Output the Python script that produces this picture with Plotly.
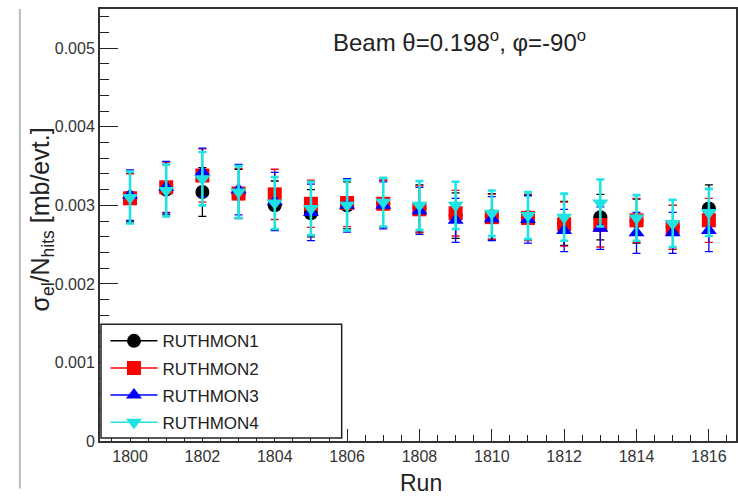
import plotly.graph_objects as go

runs = list(range(1800, 1817))

ruth1 = [3.10, 3.20, 3.17, 3.15, 3.00, 2.90, 3.00, 3.02, 2.96, 2.87, 2.86, 2.85, 2.77, 2.85, 2.80, 2.72, 2.96]
ruth2 = [3.09, 3.23, 3.38, 3.15, 3.14, 3.02, 3.03, 3.02, 2.95, 2.90, 2.85, 2.84, 2.76, 2.75, 2.81, 2.72, 2.81]
ruth3 = [3.13, 3.23, 3.42, 3.20, 3.05, 2.91, 3.00, 3.00, 2.93, 2.81, 2.83, 2.82, 2.68, 2.71, 2.65, 2.65, 2.68]
ruth4 = [3.10, 3.19, 3.34, 3.17, 3.03, 2.96, 3.00, 3.04, 3.00, 3.00, 2.90, 2.87, 2.85, 3.03, 2.84, 2.77, 2.91]

err1 = [0.31, 0.32, 0.31, 0.31, 0.31, 0.30, 0.30, 0.30, 0.30, 0.29, 0.29, 0.29, 0.28, 0.29, 0.28, 0.28, 0.30]
err2 = [0.31, 0.32, 0.34, 0.32, 0.32, 0.30, 0.30, 0.30, 0.30, 0.29, 0.29, 0.29, 0.28, 0.28, 0.28, 0.28, 0.28]
err3 = [0.32, 0.33, 0.31, 0.32, 0.37, 0.36, 0.34, 0.30, 0.30, 0.28, 0.28, 0.30, 0.27, 0.27, 0.26, 0.26, 0.27]
err4 = [0.33, 0.33, 0.34, 0.33, 0.33, 0.34, 0.32, 0.31, 0.31, 0.30, 0.29, 0.30, 0.30, 0.30, 0.29, 0.30, 0.30]

ytick_vals = [0, 0.001, 0.002, 0.003, 0.004, 0.005]
ytick_text = ["0", "0.001", "0.002", "0.003", "0.004", "0.005"]

names = ["RUTHMON1", "RUTHMON2", "RUTHMON3", "RUTHMON4"]
series = [ruth1, ruth2, ruth3, ruth4]
errors = [err1, err2, err3, err4]
colors = ["#000000", "#ff0000", "#0000ff", "#1fe3e3"]
symbols = ["circle", "square", "triangle-up", "triangle-down"]
bar_widths = [1.3, 1.3, 1.3, 2.6]

fig = go.Figure()

for name, vals, errs, col, sym, bw in zip(names, series, errors, colors, symbols, bar_widths):
    fig.add_trace(go.Scatter(
        x=runs, y=[v * 1e-3 for v in vals], mode="markers", name=name,
        showlegend=False,
        marker=dict(symbol=sym, color=col, size=14, line=dict(width=0)),
        error_y=dict(type="data", array=[e * 1e-3 for e in errs], visible=True,
                     color=col, thickness=bw, width=4),
    ))

for name, col, sym in zip(names, colors, symbols):
    fig.add_trace(go.Scatter(
        x=[None], y=[None], mode="lines+markers", name=name, legendgroup=name,
        line=dict(color=col, width=1.5),
        marker=dict(symbol=sym, color=col, size=14),
    ))

fig.update_layout(
    width=738, height=497,
    margin=dict(l=100, r=2, t=9, b=56),
    paper_bgcolor="white", plot_bgcolor="white",
    font=dict(family="Liberation Sans, Arial, sans-serif", color="#222"),
    showlegend=True,
    legend=dict(
        x=0.0086, y=0.2725, xanchor="left", yanchor="top",
        bgcolor="rgba(0,0,0,0)", borderwidth=0,
        font=dict(size=17, color="#222"),
        traceorder="grouped", tracegroupgap=2, itemwidth=47,
    ),
    xaxis=dict(
        range=[1799.17, 1816.75], dtick=2, tick0=1800, automargin=False,
        ticks="inside", ticklen=12, tickcolor="#222", tickwidth=1.2,
        minor=dict(dtick=0.5, ticks="inside", ticklen=6, tickcolor="#222", tickwidth=1),
        showline=True, linecolor="#333", linewidth=2, mirror=True,
        showgrid=False, zeroline=False,
        tickfont=dict(size=16, color="#333"),
    ),
    yaxis=dict(
        range=[0, 0.0055], tickvals=ytick_vals, ticktext=ytick_text, automargin=False,
        ticks="inside", ticklen=18, tickcolor="#222", tickwidth=1.2,
        minor=dict(dtick=0.0002, ticks="inside", ticklen=9, tickcolor="#222", tickwidth=1),
        showline=True, linecolor="#333", linewidth=2, mirror=True,
        showgrid=False, zeroline=False,
        tickfont=dict(size=16, color="#333"),
    ),
    annotations=[
        dict(text="Beam θ=0.198<sup>o</sup>, φ=-90<sup>o</sup>", xref="paper", yref="paper",
             x=0.566, y=0.925, xanchor="center", yanchor="middle", showarrow=False,
             font=dict(size=24, color="#222")),
        dict(text="σ<sub>el</sub>/N<sub>hits</sub> [mb/evt.]", xref="paper", yref="paper",
             x=-0.091, y=0.513, xanchor="center", yanchor="middle", textangle=-90,
             showarrow=False, font=dict(size=25, color="#222")),
        dict(text="Run", xref="paper", yref="paper",
             x=0.505, y=-0.098, xanchor="center", yanchor="middle",
             showarrow=False, font=dict(size=23, color="#222")),
    ],
    shapes=[
        dict(type="line", xref="paper", yref="paper", x0=-0.126, x1=-0.126, y0=-0.11, y1=1.0,
             line=dict(color="#bbbbbb", width=2)),
        dict(type="rect", xref="paper", yref="paper", x0=0.0016, x1=0.380, y0=0.007, y1=0.270,
             fillcolor="white", layer="above", line=dict(color="#222", width=1.5)),
    ],
)

fig.write_html("out.html", config={"displayModeBar": False},
               post_script="document.body.style.margin='0';")
